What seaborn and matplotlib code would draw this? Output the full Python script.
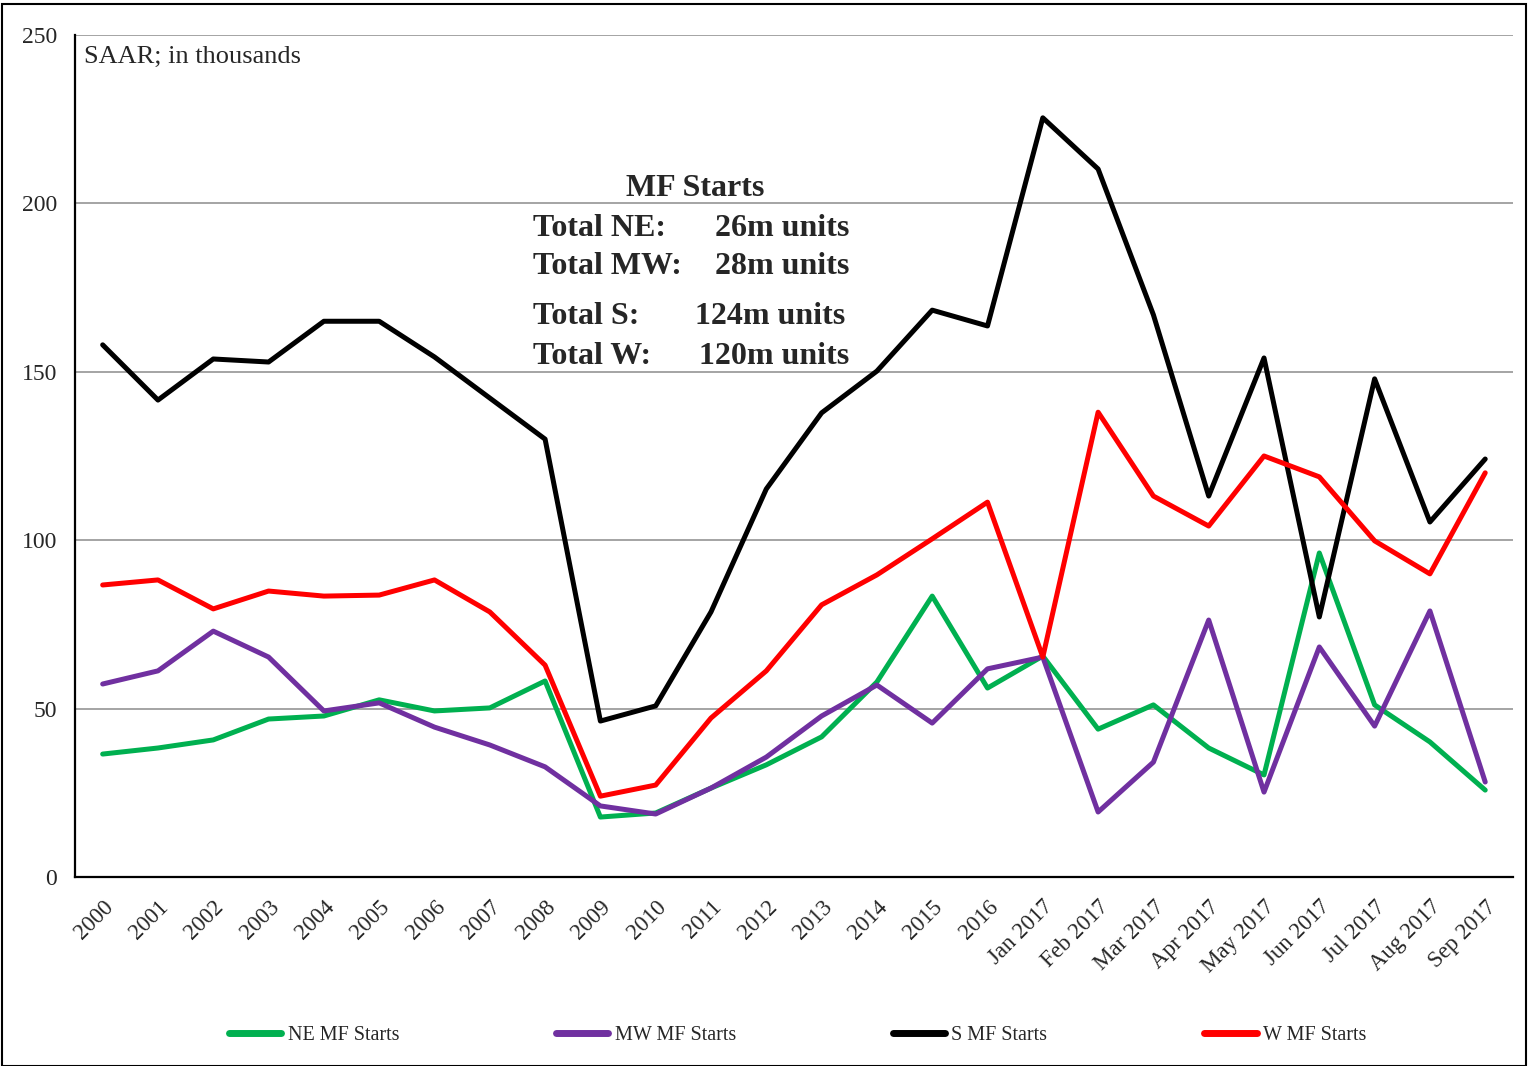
import pandas as pd
import numpy as np
import seaborn as sns
import matplotlib.pyplot as plt
from matplotlib.patches import Rectangle
from matplotlib.ticker import FixedLocator

# categories (annual, then monthly 2017)
periods = ['2000', '2001', '2002', '2003', '2004', '2005', '2006', '2007', '2008',
           '2009', '2010', '2011', '2012', '2013', '2014', '2015', '2016',
           'Jan 2017', 'Feb 2017', 'Mar 2017', 'Apr 2017', 'May 2017',
           'Jun 2017', 'Jul 2017', 'Aug 2017', 'Sep 2017']

ne_starts = [36.5, 38.3, 40.7, 46.9, 47.8, 52.6, 49.3, 50.2, 58.2, 17.8, 19.0, 26.4, 33.3,
             41.6, 57.9, 83.4, 56.1, 65.6, 43.9, 51.1, 38.3, 30.3, 96.2, 51.1, 40.1, 25.8]
mw_starts = [57.3, 61.2, 73.0, 65.3, 49.3, 51.7, 44.5, 39.2, 32.7, 21.1, 18.7, 26.4, 35.6,
             47.8, 57.0, 45.7, 61.8, 65.3, 19.3, 34.1, 76.3, 25.2, 68.3, 44.8, 79.0, 28.2]
s_starts = [158.0, 141.6, 153.8, 152.9, 165.0, 165.0, 154.4, 142.2, 130.0, 46.3, 50.8, 78.7, 115.2,
            137.8, 150.2, 168.3, 163.6, 225.4, 210.2, 166.9, 113.1, 154.1, 77.2, 147.9, 105.4, 124.1]
w_starts = [86.7, 88.2, 79.6, 84.9, 83.4, 83.7, 88.2, 78.7, 62.9, 24.0, 27.3, 47.2, 61.2,
            80.8, 89.7, 100.4, 111.3, 65.3, 138.0, 113.1, 104.2, 125.0, 118.8, 99.8, 90.0, 120.0]

series_names = ['NE MF Starts', 'MW MF Starts', 'S MF Starts', 'W MF Starts']
series_colors = ['#00b050', '#7030a0', '#000000', '#ff0000']

total_labels = ['Total NE:', 'Total MW:', 'Total S:', 'Total W:']
total_values = ['26m units', '28m units', '124m units', '120m units']

# long table for seaborn
pos = np.arange(len(periods))
df = pd.concat([
    pd.DataFrame({'pos': pos, 'value': vals, 'series': name})
    for name, vals in zip(series_names, [ne_starts, mw_starts, s_starts, w_starts])
], ignore_index=True)

sns.set_style('white')
plt.rcParams['font.family'] = ['Liberation Serif', 'DejaVu Serif']

fig = plt.figure(figsize=(15.28, 10.66), dpi=100)
ax = fig.add_axes([0.0491, 0.1773, 0.9410, 0.7899])

sns.lineplot(data=df, x='pos', y='value', hue='series', hue_order=series_names,
             palette=dict(zip(series_names, series_colors)), linewidth=3.6,
             sort=False, ax=ax, legend=False, zorder=3)

ax.set_xlim(-0.5, len(periods) - 0.5)
ax.set_ylim(0, 250)
ax.set_yticks([0, 50, 100, 150, 200, 250])
ax.yaxis.grid(True, color='#8c8c8c', linewidth=1.1)
ax.set_axisbelow(True)
for sp in ['top', 'right']:
    ax.spines[sp].set_visible(False)
for sp in ['left', 'bottom']:
    ax.spines[sp].set_color('black')
    ax.spines[sp].set_linewidth(1.6)

ax.set_xticks(pos)
ax.set_xticklabels(periods, rotation=45, ha='right', va='top', rotation_mode='anchor',
                   fontsize=16.5)
ax.xaxis.set_minor_locator(FixedLocator(np.arange(-0.5, len(periods), 1.0)))
ax.tick_params(axis='x', which='major', length=0, pad=14)
ax.tick_params(axis='x', which='minor', length=7, width=1.4, direction='out', color='black')
ax.tick_params(axis='y', length=8, width=1.4, direction='out', color='black',
               labelsize=17, pad=5)
ax.set_xlabel('')
ax.set_ylabel('')

ax.text(0.006, 0.987, 'SAAR; in thousands', transform=ax.transAxes,
        fontsize=19, va='top', ha='left')

# totals annotation
fig.text(0.455, 0.8235, 'MF Starts', fontsize=23, fontweight='bold', ha='center', va='center')
row_y = [0.786, 0.750, 0.7034, 0.666]
value_x = [0.468, 0.468, 0.4548, 0.4575]
for lab, val, yy, vx in zip(total_labels, total_values, row_y, value_x):
    fig.text(0.3488, yy, lab, fontsize=23, fontweight='bold', ha='left', va='center')
    fig.text(vx, yy, val, fontsize=23, fontweight='bold', ha='left', va='center')

# legend
handles = [plt.Line2D([], [], color=c, linewidth=5, solid_capstyle='round') for c in series_colors]
fig.legend(handles, series_names, loc='center', bbox_to_anchor=(0.522, 0.029), ncol=4,
           frameon=False, fontsize=14.5, handlelength=2.6, handletextpad=0.3,
           columnspacing=7.8)

fig.patches.append(Rectangle((0.0015, 0.0), 0.997, 0.996, transform=fig.transFigure,
                             fill=False, edgecolor='black', linewidth=1.5))

fig.savefig('out.png', dpi=100)
